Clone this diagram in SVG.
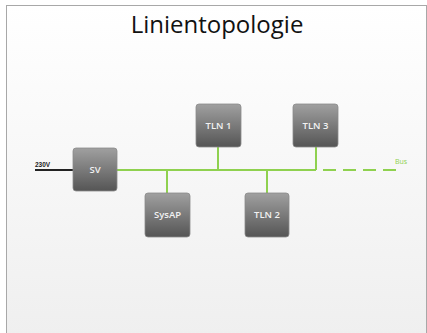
<svg xmlns="http://www.w3.org/2000/svg" width="427" height="333" viewBox="0 0 427 333">
<defs>
<linearGradient id="bg" x1="0" y1="0" x2="0" y2="1">
<stop offset="0" stop-color="#ffffff"/>
<stop offset="1" stop-color="#efefef"/>
</linearGradient>
<linearGradient id="box" x1="0" y1="0" x2="0" y2="1">
<stop offset="0" stop-color="#a0a0a0"/>
<stop offset="1" stop-color="#555555"/>
</linearGradient>
<style>
.node rect{fill:url(#box);stroke:#8a8a8a;stroke-width:0.8}
.node text{font-family:"Open Sans","Liberation Sans",sans-serif;font-size:9.5px;fill:#f2f2f2;text-anchor:middle;font-weight:600}
.bus{stroke:#8fd14f;stroke-width:2;fill:none}
</style>
</defs>
<rect x="0" y="0" width="427" height="333" fill="#ffffff"/>
<rect x="6.5" y="5.5" width="420" height="330" fill="url(#bg)" stroke="#a8a8a8" stroke-width="1"/>
<text x="217" y="33" font-family="Open Sans, Liberation Sans, sans-serif" font-size="24" fill="#111" text-anchor="middle">Linientopologie</text>
<g id="connectors">
<line x1="35" y1="170" x2="73" y2="170" stroke="#222" stroke-width="2"/>
<path class="bus" d="M117 170 H316 M167 170 V193 M218 170 V147 M267 170 V193 M316 170 V147"/>
<path class="bus" d="M323 170 H400" stroke-dasharray="13 7"/>
<text x="35" y="167" font-family="Liberation Sans, sans-serif" font-size="6.5" font-weight="bold" fill="#222">230V</text>
<text x="395" y="164" font-family="Open Sans, Liberation Sans, sans-serif" font-size="7" fill="#8fd14f">Bus</text>
</g>
<g id="SV" class="node"><rect x="73" y="148" width="44" height="43" rx="3"/><text x="95" y="173">SV</text></g>
<g id="SysAP" class="node"><rect x="145" y="193" width="45" height="44" rx="3"/><text x="167.5" y="218">SysAP</text></g>
<g id="TLN1" class="node"><rect x="196" y="104" width="45" height="43" rx="3"/><text x="218.5" y="129">TLN 1</text></g>
<g id="TLN3" class="node"><rect x="293" y="104" width="45" height="43" rx="3"/><text x="315.5" y="129">TLN 3</text></g>
<g id="TLN2" class="node"><rect x="245" y="193" width="44" height="44" rx="3"/><text x="267" y="218">TLN 2</text></g>
</svg>
